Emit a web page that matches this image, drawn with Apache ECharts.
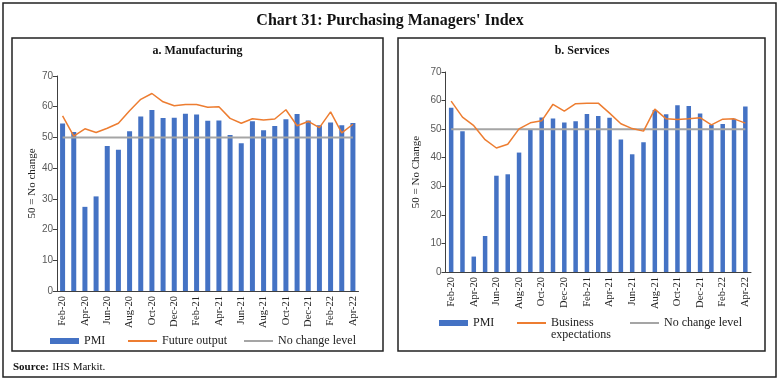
<!DOCTYPE html>
<html>
<head>
<meta charset="utf-8">
<script src="https://cdn.jsdelivr.net/npm/echarts@6/dist/echarts.min.js"></script>
<style>html,body{margin:0;padding:0;background:#fff;}#c{width:780px;height:382px;}</style>
</head>
<body>
<div id="c"></div>
<script>
const categories = ['Feb-20','Mar-20','Apr-20','May-20','Jun-20','Jul-20','Aug-20','Sep-20','Oct-20','Nov-20','Dec-20',
  'Jan-21','Feb-21','Mar-21','Apr-21','May-21','Jun-21','Jul-21','Aug-21','Sep-21','Oct-21','Nov-21','Dec-21',
  'Jan-22','Feb-22','Mar-22','Apr-22'];
const mfgPMI = [54.5, 51.8, 27.4, 30.8, 47.2, 46.0, 52.0, 56.8, 58.9, 56.3, 56.4, 57.7, 57.5, 55.4, 55.5, 50.8, 48.1, 55.3, 52.3, 53.7, 55.9, 57.6, 55.5, 54.0, 54.9, 54.0, 54.7];
const futureOutput = [57.0, 50.4, 52.8, 51.6, 53.0, 54.6, 58.7, 62.4, 64.3, 61.6, 60.3, 60.7, 60.7, 59.8, 60.0, 56.2, 54.6, 56.1, 55.7, 56.0, 59.0, 53.8, 55.2, 53.2, 58.3, 51.5, 54.3];
const servicesPMI = [57.5, 49.3, 5.4, 12.6, 33.7, 34.2, 41.8, 49.8, 54.1, 53.7, 52.3, 52.8, 55.3, 54.6, 54.0, 46.4, 41.2, 45.4, 56.7, 55.2, 58.4, 58.1, 55.5, 51.5, 51.8, 53.6, 57.9];
const businessExpectations = [59.8, 54.2, 51.2, 46.3, 43.4, 44.7, 50.1, 52.2, 52.9, 58.7, 56.3, 58.9, 59.1, 59.1, 55.6, 51.9, 50.2, 49.3, 57.0, 53.6, 53.4, 53.6, 54.0, 51.5, 53.5, 53.6, 52.1];
const noChangeLevel = [50, 50, 50, 50, 50, 50, 50, 50, 50, 50, 50, 50, 50, 50, 50, 50, 50, 50, 50, 50, 50, 50, 50, 50, 50, 50, 50];
const yTicks = { min: 0, max: 70, interval: 10 };

const SERIF = 'Liberation Serif';
const SANS = 'Liberation Sans';
const BLUE = '#4472C4', ORANGE = '#ED7D31', GREY = '#A5A5A5', AXIS = '#404040';

function xAxisCfg(gridIndex) {
  return {
    type: 'category', gridIndex, data: categories, boundaryGap: true,
    axisLine: { lineStyle: { color: AXIS, width: 1 } },
    axisTick: { interval: 1, length: 4, lineStyle: { color: AXIS } },
    axisLabel: { interval: 1, rotate: 90, margin: 5, fontFamily: SERIF, fontSize: 10.5, color: '#222' },
    splitLine: { show: false }
  };
}
function yAxisCfg(gridIndex, name, gap) {
  return {
    type: 'value', gridIndex, min: yTicks.min, max: yTicks.max, interval: yTicks.interval,
    name, nameLocation: 'middle', nameGap: gap, nameRotate: 90,
    nameTextStyle: { fontFamily: SERIF, fontSize: 11, color: '#222' },
    axisLine: { show: true, lineStyle: { color: AXIS, width: 1 } },
    axisTick: { show: true, length: 4, lineStyle: { color: AXIS } },
    axisLabel: { margin: 4, fontFamily: SANS, fontSize: 10, color: '#595959' },
    splitLine: { show: false }
  };
}
function legendCfg(name, left, top, h, extra) {
  return Object.assign({
    data: [{ name, icon: 'rect' }], left, top, padding: 0, itemWidth: 29, itemHeight: h, itemGap: 0,
    textStyle: { fontFamily: SERIF, fontSize: 12, color: '#222', lineHeight: 12 },
    selectedMode: false
  }, extra || {});
}

const chart = echarts.init(document.getElementById('c'), null, { renderer: 'canvas' });
chart.setOption({
  animation: false,
  backgroundColor: '#fff',
  grid: [
    { left: 57, top: 76, width: 301.5, height: 215, containLabel: false },
    { left: 445.5, top: 72, width: 305.5, height: 200, containLabel: false }
  ],
  xAxis: [xAxisCfg(0), xAxisCfg(1)],
  yAxis: [yAxisCfg(0, '50 = No change', 19), yAxisCfg(1, '50 = No Change', 24)],
  legend: [
    legendCfg('PMI', 50, 335, 6),
    legendCfg('Future output', 128, 335, 2),
    legendCfg('No change level', 244, 335, 2),
    legendCfg('PMI', 439, 317, 6),
    legendCfg('Business expectations', 517, 305, 2, {
      formatter: () => '\nBusiness\nexpectations'
    }),
    legendCfg('No change level', 630, 317, 2)
  ],
  series: [
    { name: 'PMI', type: 'bar', xAxisIndex: 0, yAxisIndex: 0, data: mfgPMI, barWidth: 5, itemStyle: { color: BLUE } },
    { name: 'No change level', type: 'line', xAxisIndex: 0, yAxisIndex: 0, data: noChangeLevel, symbol: 'none', lineStyle: { color: GREY, width: 2 }, itemStyle: { color: GREY } },
    { name: 'Future output', type: 'line', xAxisIndex: 0, yAxisIndex: 0, data: futureOutput, symbol: 'none', lineStyle: { color: ORANGE, width: 1.5 }, itemStyle: { color: ORANGE } },
    { name: 'PMI', type: 'bar', xAxisIndex: 1, yAxisIndex: 1, data: servicesPMI, barWidth: 4.5, itemStyle: { color: BLUE } },
    { name: 'No change level', type: 'line', xAxisIndex: 1, yAxisIndex: 1, data: noChangeLevel, symbol: 'none', lineStyle: { color: GREY, width: 2 }, itemStyle: { color: GREY } },
    { name: 'Business expectations', type: 'line', xAxisIndex: 1, yAxisIndex: 1, data: businessExpectations, symbol: 'none', lineStyle: { color: ORANGE, width: 1.5 }, itemStyle: { color: ORANGE } }
  ],
  graphic: [
    { type: 'rect', shape: { x: 3, y: 3, width: 773, height: 374 }, style: { fill: 'none', stroke: '#222', lineWidth: 1.5 }, silent: true },
    { type: 'rect', shape: { x: 12, y: 38, width: 371, height: 313 }, style: { fill: 'none', stroke: '#222', lineWidth: 1.5 }, silent: true },
    { type: 'rect', shape: { x: 398, y: 38, width: 367, height: 313 }, style: { fill: 'none', stroke: '#222', lineWidth: 1.5 }, silent: true },
    { type: 'text', x: 390, y: 21, style: { text: "Chart 31: Purchasing Managers' Index", font: 'bold 16px "Liberation Serif"', fill: '#111', align: 'center', verticalAlign: 'middle' } },
    { type: 'text', x: 197.5, y: 51, style: { text: 'a. Manufacturing', font: 'bold 12px "Liberation Serif"', fill: '#111', align: 'center', verticalAlign: 'middle' } },
    { type: 'text', x: 582, y: 51, style: { text: 'b. Services', font: 'bold 12px "Liberation Serif"', fill: '#111', align: 'center', verticalAlign: 'middle' } },
    { type: 'text', x: 13, y: 367, style: {
        text: '{b|Source:} {n|IHS Markit.}', verticalAlign: 'middle',
        rich: { b: { fontFamily: SERIF, fontWeight: 'bold', fontSize: 11, fill: '#111' }, n: { fontFamily: SERIF, fontSize: 11, fill: '#111' } }
      } }
  ]
});
</script>
</body>
</html>
